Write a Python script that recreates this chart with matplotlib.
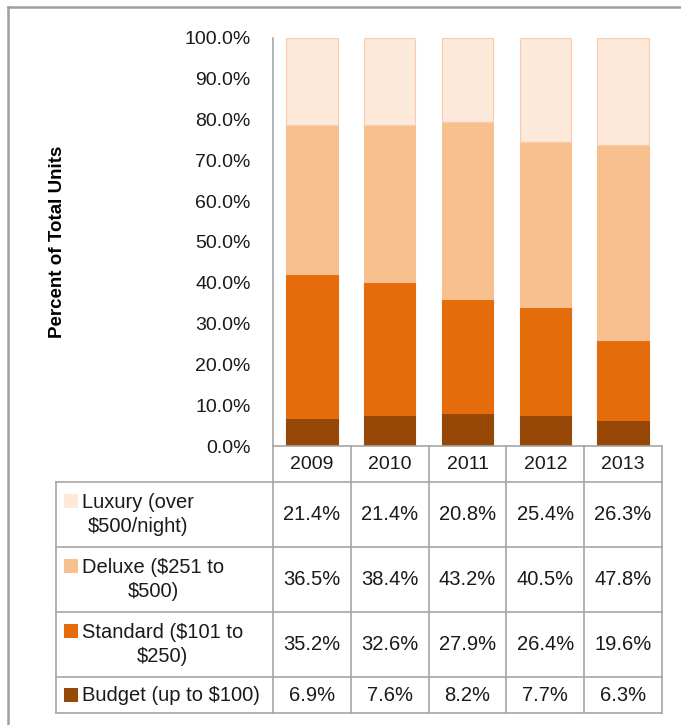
import numpy as np
import matplotlib.pyplot as plt
import matplotlib.transforms as mtransforms
from matplotlib.lines import Line2D
from matplotlib.patches import Rectangle

plt.rcParams['font.family'] = ['Liberation Sans', 'DejaVu Sans']

years = ['2009', '2010', '2011', '2012', '2013']
categories = ['Luxury (over\n$500/night)', 'Deluxe ($251 to\n$500)',
              'Standard ($101 to\n$250)', 'Budget (up to $100)']
luxury = [21.4, 21.4, 20.8, 25.4, 26.3]
deluxe = [36.5, 38.4, 43.2, 40.5, 47.8]
standard = [35.2, 32.6, 27.9, 26.4, 19.6]
budget = [6.9, 7.6, 8.2, 7.7, 6.3]

colors = {'Luxury': '#FDE9D9', 'Deluxe': '#F9C08F',
          'Standard': '#E46C0A', 'Budget': '#974806'}
edges = {'Luxury': '#F9CBAD', 'Deluxe': '#F9C08F',
         'Standard': '#E46C0A', 'Budget': '#974806'}

W, H = 681, 725
fig = plt.figure(figsize=(W / 100, H / 100), dpi=100)
ax = fig.add_axes([273 / W, 1 - 446 / H, 389 / W, 408 / H])

x = np.arange(len(years))
stack = [('Budget', budget), ('Standard', standard),
         ('Deluxe', deluxe), ('Luxury', luxury)]
bottom = np.zeros(len(years))
for name, vals in stack:
    vals = np.array(vals)
    ax.bar(x, vals, 0.66, bottom=bottom, color=colors[name],
           edgecolor=edges[name], linewidth=0.8)
    bottom += vals

ax.set_xlim(-0.5, len(years) - 0.5)
ax.set_ylim(0, 100)
ax.set_yticks(np.arange(0, 101, 10))
ax.set_yticklabels([f'{v:.1f}%' for v in np.arange(0, 101, 10)],
                   fontsize=14, color='#1A1A1A')
ax.tick_params(axis='y', length=0, pad=16)
ax.set_xticks([])
for s in ['top', 'right', 'bottom']:
    ax.spines[s].set_visible(False)
ax.spines['left'].set_color('#A6A6A6')
ax.spines['left'].set_linewidth(1.2)

ax.set_ylabel('Percent of Total Units', fontsize=13.5, fontweight='bold',
              labelpad=0)
ax.yaxis.set_label_coords((66 - 273) / 389, 0.5)

# data table under the chart
tr = mtransforms.blended_transform_factory(ax.transData, ax.transAxes)
row_px = [446, 482, 547, 612, 677, 713]
row_y = [(446 - p) / 408 for p in row_px]
label_left = -0.5 + (56 - 273) / 77.8
grid = dict(color='#A6A6A6', linewidth=1.2, transform=tr, clip_on=False)

for yy in row_y[:1]:
    ax.add_line(Line2D([-0.5, 4.5], [yy] * 2, **grid))
for yy in row_y[1:]:
    ax.add_line(Line2D([label_left, 4.5], [yy] * 2, **grid))
for xx in np.arange(-0.5, 5.0, 1.0):
    ax.add_line(Line2D([xx, xx], [row_y[0], row_y[-1]], **grid))
ax.add_line(Line2D([label_left, label_left], [row_y[1], row_y[-1]], **grid))

for i, yr in enumerate(years):
    ax.text(i, (row_y[0] + row_y[1]) / 2, yr, transform=tr, ha='center',
            va='center', fontsize=14, color='#1A1A1A')

table_vals = [luxury, deluxe, standard, budget]
names = ['Luxury', 'Deluxe', 'Standard', 'Budget']
sq_x = -0.5 + (64 - 273) / 77.8
txt_x = -0.5 + (82 - 273) / 77.8
for r, (cat, vals, name) in enumerate(zip(categories, table_vals, names)):
    yc = (row_y[r + 1] + row_y[r + 2]) / 2
    for i, v in enumerate(vals):
        ax.text(i, yc, f'{v:.1f}%', transform=tr, ha='center', va='center',
                fontsize=14.5, color='#1A1A1A')
    nlines = cat.count('\n') + 1
    first_y = yc + (nlines - 1) * (14 / 408)
    ax.add_patch(Rectangle((sq_x, first_y - 7 / 408), 14 / 77.8, 14 / 408,
                           transform=tr, clip_on=False,
                           facecolor=colors[name], edgecolor='none'))
    ax.text(txt_x, yc, cat, transform=tr, ha='left', va='center',
            multialignment='center', fontsize=14.5, color='#1A1A1A',
            linespacing=1.3)

# outer chart frame (left and top edges visible)
fig.add_artist(Line2D([8 / W, 8 / W], [0, 1 - 7 / H], color='#A0A0A0',
                      linewidth=1.8, transform=fig.transFigure))
fig.add_artist(Line2D([8 / W, 1], [1 - 7 / H, 1 - 7 / H], color='#A0A0A0',
                      linewidth=1.8, transform=fig.transFigure))

fig.savefig('out.png', dpi=100)
